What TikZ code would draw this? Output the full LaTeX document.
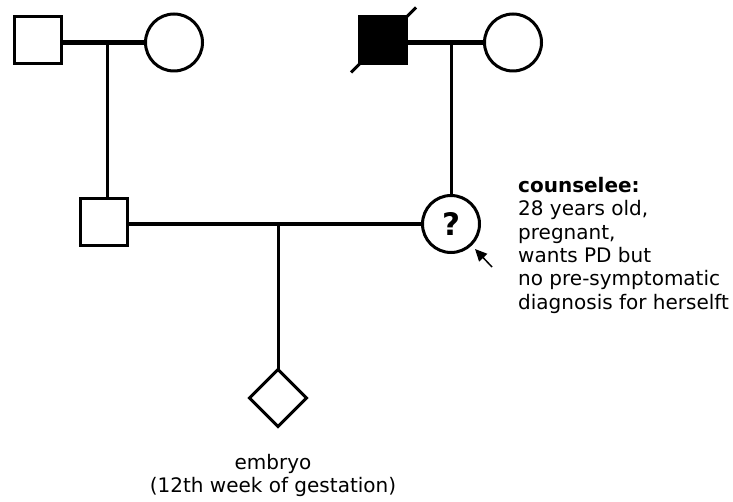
\documentclass[tikz,border=0pt]{standalone}
\usepackage{fontspec}
\setmainfont{DejaVu Sans}
\usetikzlibrary{shapes.geometric,arrows.meta,calc}
\begin{document}
\begin{tikzpicture}[x=1pt,y=-1pt,
  male/.style={draw, line width=3pt, rectangle, minimum size=47pt, inner sep=0pt, outer sep=0pt},
  female/.style={draw, line width=3pt, circle, minimum size=57pt, inner sep=0pt, outer sep=0pt},
  unborn/.style={draw, line width=3pt, diamond, minimum width=57pt, minimum height=57pt, inner sep=0pt, outer sep=0pt},
  couple/.style={line width=4.6pt},
  descent/.style={line width=3pt},
  label text/.style={inner sep=0pt, align=left, font=\fontsize{20}{23.4}\selectfont}
]
\useasboundingbox (0,0) rectangle (733,502);

% first generation
\node[male] (gf1) at (38,40.5) {};
\node[female] (gm1) at (174,42.5) {};
\node[male, fill=black] (gf2) at (383,40.5) {};
\node[female] (gm2) at (513,42.5) {};

% second generation
\node[male] (father) at (104,222) {};
\node[female] (mother) at (451,224) {\fontsize{31}{31}\selectfont\bfseries ?};

% third generation
\node[unborn] (embryo) at (278,398) {};

% deceased mark
\draw[line width=3pt] ($(gf2.center)+(-32,32)$) -- ($(gf2.center)+(33,-33)$);

% partnerships
\draw[couple] (gf1.east |- gm1.west) -- (gm1.west);
\draw[couple] (gf2.east |- gm2.west) -- (gm2.west);
\draw[couple] (father.east |- mother.west) -- (mother.west);

% lines of descent
\coordinate (m1) at (107,42.5);
\coordinate (m2) at (451,42.5);
\coordinate (m3) at (278,224);
\draw[descent] (m1) -- (m1 |- father.north);
\draw[descent] (m2) -- (mother.north);
\draw[descent] (m3) -- (embryo.north);

% proband pointer
\coordinate (ptrtail) at (492,267);
\coordinate (ptrtip) at (475,249);
\draw[line width=1.5pt, -{Triangle[length=12pt,width=11pt]}] (ptrtail) -- (ptrtip);

% labels
\node[label text, anchor=north west] (note) at (518,177)
  {\textbf{counselee:}\\28 years old,\\pregnant,\\wants PD but\\no pre-symptomatic\\diagnosis for herselft};
\node[label text, align=center, anchor=north] (embryolabel) at (273,454)
  {embryo\\(12th week of gestation)};
\end{tikzpicture}
\end{document}
